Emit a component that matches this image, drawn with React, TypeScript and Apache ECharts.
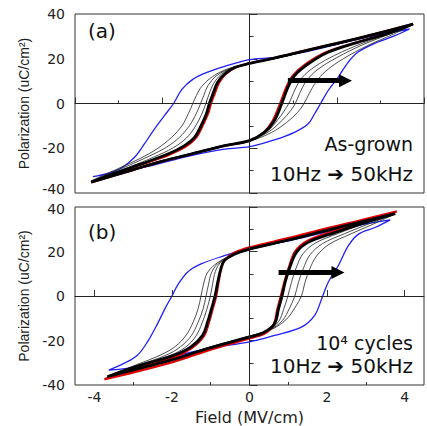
import { useEffect, useRef } from "react";
import * as echarts from "echarts";

type Pt = [number, number];

// ---------- Panel (a): as-grown ----------
const aBlueUp: Pt[] = [[3.67,33.3],[2.87,30.3],[2.1,26.9],[1.34,23.3],[0.57,20.6],[0,19.6],[-0.57,16.6],[-0.96,14],[-1.3,10.8],[-1.55,6.3],[-1.74,0],[-1.95,-5.4],[-2.18,-11.4],[-2.41,-18.1],[-2.64,-24.1],[-2.94,-28.8],[-3.25,-31.2],[-3.59,-32.7]];
const aBlueDown: Pt[] = [[-3.59,-32.9],[-2.48,-28.8],[-1.34,-23.3],[-0.57,-20.4],[0,-19.3],[0.57,-16.3],[1.03,-12.9],[1.34,-9.2],[1.49,-4.7],[1.63,0],[1.8,5.7],[2.03,11.7],[2.26,18.4],[2.48,22.9],[2.87,26.9],[3.33,30.3],[3.67,33.3]];

const aThin1Up: Pt[] = [[3.75,35.3],[2.87,30.8],[2.1,27],[1.34,23.6],[0.57,20],[0,17.8],[-0.4,15.8],[-0.65,13],[-0.82,9],[-0.93,4],[-1.0,0],[-1.1,-5],[-1.25,-10.5],[-1.45,-15.5],[-1.75,-19.8],[-2.2,-24],[-2.8,-28.8],[-3.3,-32.3],[-3.63,-35]];
const aThin1Down: Pt[] = [[-3.63,-35],[-2.87,-30.6],[-2.1,-26.1],[-1.34,-22.4],[-0.57,-18.6],[0,-16.4],[0.4,-12.5],[0.65,-7.2],[0.9,0],[1.05,6.5],[1.2,11.5],[1.5,16.5],[1.95,21.5],[2.6,27],[3.25,31.5],[3.75,35.3]];
const aThin2Up: Pt[] = [[3.75,35.2],[2.87,30.8],[2.1,27],[1.34,23.6],[0.57,20],[0,17.9],[-0.45,15.5],[-0.75,12.5],[-0.95,8],[-1.05,3.5],[-1.12,0],[-1.22,-4.5],[-1.38,-10],[-1.6,-15],[-1.9,-19.5],[-2.35,-24],[-2.9,-28.8],[-3.35,-32.5],[-3.63,-34.8]];
const aThin2Down: Pt[] = [[-3.63,-34.8],[-2.87,-30.6],[-2.1,-26.1],[-1.34,-22.4],[-0.57,-18.6],[0,-16.6],[0.45,-12.5],[0.75,-7.5],[0.95,-3],[1.05,0],[1.15,4.5],[1.3,10],[1.55,15],[2.0,20.5],[2.6,26.3],[3.25,31.3],[3.75,35.2]];
const aThin3Up: Pt[] = [[3.72,35],[2.87,30.7],[2.1,26.9],[1.34,23.5],[0.57,20],[0,18],[-0.5,15.5],[-0.85,12],[-1.1,7.5],[-1.22,3.5],[-1.3,0],[-1.4,-4.5],[-1.55,-10],[-1.78,-15],[-2.1,-20],[-2.5,-24.5],[-3.0,-29],[-3.4,-32.5],[-3.63,-34.6]];
const aThin3Down: Pt[] = [[-3.63,-34.6],[-2.87,-30.5],[-2.1,-26],[-1.34,-22.3],[-0.57,-18.7],[0,-16.8],[0.5,-13],[0.85,-8.5],[1.1,-4],[1.25,0],[1.37,4.5],[1.52,9.5],[1.75,14.5],[2.15,20],[2.7,25.8],[3.3,31],[3.72,35]];

const aRedUp: Pt[] = [[3.75,35.6],[2.87,31.1],[2.1,27.4],[1.34,24],[0.57,20.4],[0,18],[-0.32,16.1],[-0.54,13.2],[-0.69,9.5],[-0.8,4.2],[-0.88,0],[-0.95,-4.7],[-1.07,-9.9],[-1.22,-15.3],[-1.45,-19.2],[-1.85,-23],[-2.48,-27.3],[-3.1,-31.4],[-3.63,-35.3]];
const aRedDown: Pt[] = [[-3.63,-35.3],[-2.87,-30.9],[-2.1,-26.4],[-1.34,-22.7],[-0.57,-18.9],[0,-16.7],[0.32,-13],[0.53,-7.7],[0.7,0],[0.84,7.2],[0.99,12.5],[1.3,17.9],[1.78,23.2],[2.48,27.5],[3.25,31.9],[3.75,35.6]];

const aThickUp: Pt[] = [[3.75,35.5],[2.87,31],[2.1,27.3],[1.34,23.9],[0.57,20.3],[0,17.9],[-0.34,16.1],[-0.57,13.2],[-0.73,9.5],[-0.84,4.2],[-0.92,0],[-0.99,-4.7],[-1.11,-9.9],[-1.26,-15.1],[-1.49,-18.8],[-1.87,-22.6],[-2.48,-27],[-3.1,-31.2],[-3.63,-35.2]];
const aThickDown: Pt[] = [[-3.63,-35.2],[-2.87,-30.8],[-2.1,-26.3],[-1.34,-22.6],[-0.57,-18.8],[0,-16.6],[0.34,-12.9],[0.57,-7.7],[0.74,0],[0.88,7.2],[1.03,12.4],[1.34,17.6],[1.8,22.9],[2.48,27.3],[3.25,31.8],[3.75,35.5]];

const aArrow: Pt[] = [[0.88,10.2],[2.2,10.2]];

// ---------- Panel (b): after 10^4 cycles ----------
const bBlueUp: Pt[] = [[3.63,34.2],[2.81,31.8],[1.94,28.6],[1.08,25],[0,21.5],[-0.65,18.1],[-1.25,14.4],[-1.6,10.7],[-1.86,4.7],[-2.0,0],[-2.16,-5],[-2.37,-12.4],[-2.63,-20.6],[-2.89,-26.6],[-3.24,-30.3],[-3.63,-33.3]];
const bBlueDown: Pt[] = [[-3.63,-34],[-2.81,-31.6],[-1.94,-27.3],[-1.08,-23.6],[0,-20.6],[0.65,-17.7],[1.34,-14],[1.68,-8.7],[1.86,-1.3],[2.03,6.2],[2.29,13.6],[2.55,22.6],[2.81,27.8],[3.24,30.8],[3.63,34.2]];

const bThin1Up: Pt[] = [[3.72,36.7],[2.81,32.8],[1.94,29.1],[1.08,25.3],[0,21],[-0.45,18.3],[-0.75,15],[-0.88,11],[-0.95,5.5],[-1.01,0],[-1.1,-6],[-1.22,-12],[-1.38,-18],[-1.65,-23],[-2.05,-26.8],[-2.81,-31],[-3.65,-36]];
const bThin1Down: Pt[] = [[-3.65,-36],[-2.81,-32.3],[-1.94,-28.2],[-1.08,-23.4],[0,-18.3],[0.45,-15.8],[0.75,-11.5],[0.88,-6],[0.99,0],[1.08,6],[1.2,12.5],[1.38,19],[1.7,23.8],[2.3,28.2],[3.0,32.8],[3.72,36.7]];
const bThin2Up: Pt[] = [[3.7,36.5],[2.81,32.7],[1.94,29],[1.08,25.2],[0,20.9],[-0.5,18],[-0.82,14.5],[-0.98,10.5],[-1.06,5],[-1.12,0],[-1.2,-6],[-1.33,-12],[-1.5,-17.8],[-1.78,-22.8],[-2.15,-26.6],[-2.85,-31],[-3.62,-35.8]];
const bThin2Down: Pt[] = [[-3.62,-35.8],[-2.81,-32.2],[-1.94,-28.1],[-1.08,-23.3],[0,-18.2],[0.5,-15.5],[0.85,-11],[1.03,-5.5],[1.17,0],[1.26,6],[1.38,12],[1.56,18.5],[1.88,23.5],[2.45,28],[3.1,32.6],[3.7,36.5]];
const bThin3Up: Pt[] = [[3.68,36.3],[2.81,32.6],[1.94,28.9],[1.08,25.1],[0,20.8],[-0.55,17.6],[-0.9,14],[-1.1,10],[-1.19,5],[-1.25,0],[-1.33,-6],[-1.46,-12],[-1.63,-17.5],[-1.9,-22.5],[-2.28,-26.4],[-2.9,-30.8],[-3.6,-35.6]];
const bThin3Down: Pt[] = [[-3.6,-35.6],[-2.81,-32.1],[-1.94,-28],[-1.08,-23.2],[0,-18],[0.55,-15.2],[0.95,-10.5],[1.18,-5],[1.34,0],[1.43,6],[1.55,12],[1.73,18],[2.05,23.2],[2.6,27.8],[3.2,32.4],[3.68,36.3]];

const bRedUp: Pt[] = [[3.8,38],[2.81,33.8],[1.94,30.2],[1.08,26.3],[0,21.8],[-0.39,19.4],[-0.62,16.5],[-0.72,13],[-0.8,6.2],[-0.86,0],[-0.95,-5.7],[-1.05,-12],[-1.18,-18],[-1.5,-23.5],[-1.94,-27.5],[-2.81,-32.2],[-3.72,-37.3]];
const bRedDown: Pt[] = [[-3.72,-37.3],[-2.81,-33.5],[-1.94,-29.5],[-1.08,-24.5],[0,-19],[0.39,-16.8],[0.62,-13],[0.72,-6],[0.81,0],[0.9,6.2],[1.02,13],[1.18,20],[1.5,24.8],[2.2,29.3],[2.98,33.8],[3.8,38]];

const bThickUp: Pt[] = [[3.76,37],[2.81,33],[1.94,29.3],[1.08,25.5],[0,21.1],[-0.39,18.8],[-0.65,15.9],[-0.73,12.9],[-0.82,6.2],[-0.89,0],[-0.98,-5.7],[-1.08,-11.7],[-1.21,-17.7],[-1.51,-22.9],[-1.94,-26.6],[-2.81,-31.1],[-3.67,-36.3]];
const bThickDown: Pt[] = [[-3.67,-36.3],[-2.81,-32.4],[-1.94,-28.4],[-1.08,-23.6],[0,-18.4],[0.39,-16.2],[0.65,-12.4],[0.75,-5.7],[0.84,0],[0.92,6.2],[1.04,12.9],[1.21,19.6],[1.51,24.1],[2.2,28.5],[2.98,33],[3.76,37]];

const bArrow: Pt[] = [[0.75,10.6],[2.28,10.6]];

// ---------- Ticks / labels ----------
const yTicks = [-40, -20, 0, 20, 40];
const xMajorTicks = [-4, -2, 0, 2, 4];
const xMinorTicks = [-3, -1, 1, 3];

const FONT = "DejaVu Sans";
const DARK = "#333";

function loop(up: Pt[], down: Pt[]): Pt[] {
  return [...up, ...down.slice(1)];
}

function curve(name: string, data: Pt[], grid: number, color: string, width: number) {
  return {
    type: "line",
    name,
    xAxisIndex: grid === 0 ? 0 : 1,
    yAxisIndex: grid,
    data,
    smooth: 0.35,
    symbol: "none",
    lineStyle: { color, width },
    silent: true,
  };
}

function zeroAndArrow(grid: number, arrow: Pt[]) {
  return [
    {
      type: "line",
      xAxisIndex: grid === 0 ? 0 : 1,
      yAxisIndex: grid,
      data: [],
      z: 1,
      markLine: {
        silent: true,
        symbol: "none",
        label: { show: false },
        lineStyle: { color: "#222", width: 1, type: "solid" },
        data: [{ xAxis: 0 }, { yAxis: 0 }],
      },
    },
    {
      type: "line",
      xAxisIndex: grid === 0 ? 0 : 1,
      yAxisIndex: grid,
      data: [],
      z: 10,
      markLine: {
        silent: true,
        symbol: ["none", "triangle"],
        symbolSize: [13, 13],
        label: { show: false },
        lineStyle: { color: "#000", width: 5, type: "solid" },
        data: [[{ coord: arrow[0] }, { coord: arrow[1] }]],
      },
    },
  ];
}

export default function App() {
  const ref = useRef<HTMLDivElement>(null);
  useEffect(() => {
    if (!ref.current) return;
    const chart = echarts.init(ref.current, null, { renderer: "svg" });
    // the two end labels where the panels meet are placed as texts nudged apart
    const yAxisBase = (gridIndex: number, hidden: number) => ({
      type: "value",
      gridIndex,
      min: yTicks[0],
      max: yTicks[yTicks.length - 1],
      interval: 20,
      name: "Polarization (uC/cm²)",
      nameLocation: "middle",
      nameGap: 34,
      nameTextStyle: { fontFamily: "Liberation Sans", fontSize: 14, color: "#222" },
      axisLine: { show: true, lineStyle: { color: DARK } },
      axisTick: { show: true, inside: true, length: 8, lineStyle: { color: DARK } },
      minorTick: { show: true, splitNumber: 2, length: 4, lineStyle: { color: DARK, width: 1 } },
      axisLabel: {
        fontFamily: FONT,
        fontSize: 14,
        color: "#222",
        margin: 10,
        formatter: (v: number) => (v === hidden ? "" : String(v)),
      },
      splitLine: { show: false },
    });
    const option = {
      animation: false,
      textStyle: { fontFamily: FONT },
      grid: [
        { left: 75, top: 14, right: 3, height: 179, show: true, borderColor: DARK, borderWidth: 1 },
        { left: 75, top: 207, right: 3, height: 179, show: true, borderColor: DARK, borderWidth: 1 },
      ],
      xAxis: [
        {
          type: "value",
          gridIndex: 0,
          min: -4,
          max: 4,
          interval: 2,
          axisLine: { show: true, lineStyle: { color: DARK } },
          axisTick: { show: true, inside: true, length: 6, lineStyle: { color: DARK } },
          minorTick: { show: true, splitNumber: 2, length: 3, lineStyle: { color: DARK, width: 1 } },
          axisLabel: { show: false },
          splitLine: { show: false },
        },
        {
          type: "value",
          gridIndex: 1,
          position: "bottom",
          min: -4.5,
          max: 4.5,
          name: "Field (MV/cm)",
          nameLocation: "middle",
          nameGap: 24,
          nameTextStyle: { fontFamily: FONT, fontSize: 16, color: "#222" },
          axisLine: { show: true, lineStyle: { color: DARK } },
          axisTick: { show: true, inside: true, length: 6, customValues: xMajorTicks, lineStyle: { color: DARK } },
          axisLabel: { fontFamily: FONT, fontSize: 14, color: "#222", margin: 5, customValues: xMajorTicks },
          splitLine: { show: false },
        },
        {
          type: "value",
          gridIndex: 1,
          position: "bottom",
          min: -4.5,
          max: 4.5,
          axisLine: { show: false },
          axisTick: { show: true, inside: true, length: 3, customValues: xMinorTicks, lineStyle: { color: DARK } },
          axisLabel: { show: false },
          splitLine: { show: false },
        },
      ],
      yAxis: [yAxisBase(0, yTicks[0]), yAxisBase(1, yTicks[yTicks.length - 1])],
      series: [
        ...zeroAndArrow(0, aArrow),
        curve("a-50kHz", loop(aBlueUp, aBlueDown), 0, "#1f1fff", 1.3),
        curve("a-thin3", loop(aThin3Up, aThin3Down), 0, "#222", 0.8),
        curve("a-thin2", loop(aThin2Up, aThin2Down), 0, "#222", 0.8),
        curve("a-thin1", loop(aThin1Up, aThin1Down), 0, "#222", 0.8),
        curve("a-10Hz", loop(aRedUp, aRedDown), 0, "#e00000", 2),
        curve("a-thick", loop(aThickUp, aThickDown), 0, "#000", 2.8),
        ...zeroAndArrow(1, bArrow),
        curve("b-50kHz", loop(bBlueUp, bBlueDown), 1, "#1f1fff", 1.3),
        curve("b-thin3", loop(bThin3Up, bThin3Down), 1, "#222", 0.8),
        curve("b-thin2", loop(bThin2Up, bThin2Down), 1, "#222", 0.8),
        curve("b-thin1", loop(bThin1Up, bThin1Down), 1, "#222", 0.8),
        curve("b-10Hz", loop(bRedUp, bRedDown), 1, "#e00000", 2.4),
        curve("b-thick", loop(bThickUp, bThickDown), 1, "#000", 2.8),
      ],
      graphic: [
        { type: "text", x: 65, y: 189, style: { text: String(yTicks[0]), fontFamily: FONT, fontSize: 14, fill: "#222", textAlign: "right", textVerticalAlign: "middle" } },
        { type: "text", x: 65, y: 209, style: { text: String(yTicks[yTicks.length - 1]), fontFamily: FONT, fontSize: 14, fill: "#222", textAlign: "right", textVerticalAlign: "middle" } },
        { type: "text", x: 88, y: 31, style: { text: "(a)", fontFamily: FONT, fontSize: 20, fill: "#111", textVerticalAlign: "middle" } },
        { type: "text", x: 88, y: 232, style: { text: "(b)", fontFamily: FONT, fontSize: 20, fill: "#111", textVerticalAlign: "middle" } },
        { type: "text", x: 413, y: 144, style: { text: "As-grown", fontFamily: FONT, fontSize: 19, fill: "#111", textAlign: "right", textVerticalAlign: "middle" } },
        { type: "text", x: 413, y: 174, style: { text: "10Hz ➔ 50kHz", fontFamily: FONT, fontSize: 20, fill: "#111", textAlign: "right", textVerticalAlign: "middle" } },
        { type: "text", x: 413, y: 343, style: { text: "10⁴ cycles", fontFamily: FONT, fontSize: 19, fill: "#111", textAlign: "right", textVerticalAlign: "middle" } },
        { type: "text", x: 413, y: 366, style: { text: "10Hz ➔ 50kHz", fontFamily: FONT, fontSize: 20, fill: "#111", textAlign: "right", textVerticalAlign: "middle" } },
      ],
    };
    chart.setOption(option as any);
    return () => chart.dispose();
  }, []);
  return (
    <div
      ref={ref}
      style={{ position: "fixed", left: 0, top: 0, width: 427, height: 426, background: "#fff" }}
    />
  );
}
